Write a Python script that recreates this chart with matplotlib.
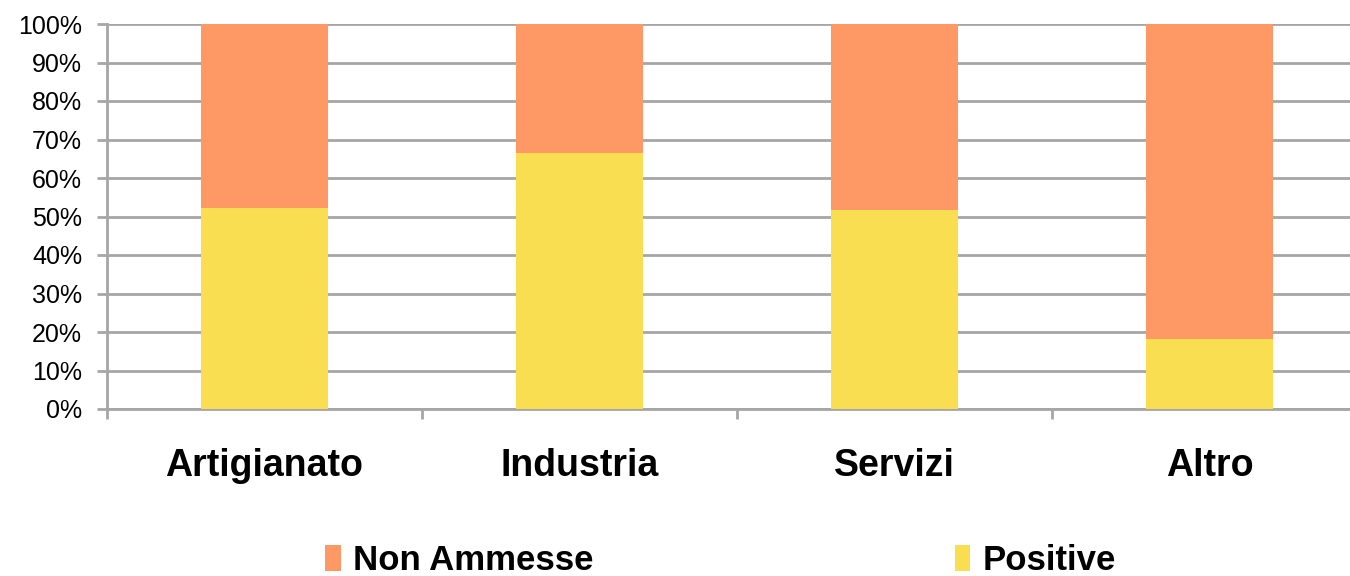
import matplotlib.pyplot as plt
import numpy as np

categories = ['Artigianato', 'Industria', 'Servizi', 'Altro']
positive = [52.1, 66.5, 51.7, 18.2]
non_ammesse = [100 - p for p in positive]
y_ticks = list(range(0, 101, 10))

yellow = '#F9DE52'
orange = '#FE9966'
grid = '#A6A6A6'

plt.rcParams['font.family'] = ['Liberation Sans', 'DejaVu Sans']

fig = plt.figure(figsize=(13.5, 5.76), dpi=100)
ax = fig.add_axes([107 / 1350, 167 / 576, 1260 / 1350, 385 / 576])

x = np.arange(len(categories))
ax.bar(x, positive, width=0.406, color=yellow, label='Positive', zorder=3)
ax.bar(x, non_ammesse, width=0.406, bottom=positive, color=orange,
       label='Non Ammesse', zorder=3)

ax.set_xlim(-0.5, len(categories) - 0.5)
ax.set_ylim(0, 100)
ax.set_yticks(y_ticks)
ax.set_yticklabels([f'{t}%' for t in y_ticks], fontsize=18)
ax.yaxis.grid(True, color=grid, linewidth=2, zorder=0)

# category boundaries get the ticks, centres get the labels
ax.set_xticks(np.arange(-0.5, len(categories), 1.0))
ax.set_xticklabels([])
ax.set_xticks(x, minor=True)
ax.set_xticklabels(categories, minor=True, fontsize=27, fontweight='bold')
ax.tick_params(axis='x', which='major', length=7, width=2, color=grid)
ax.tick_params(axis='x', which='minor', length=0, pad=28)
ax.tick_params(axis='y', length=7, width=2, color=grid, pad=11)

for s in ['top', 'right']:
    ax.spines[s].set_visible(False)
for s in ['left', 'bottom']:
    ax.spines[s].set_color(grid)
    ax.spines[s].set_linewidth(2)

handles, labels = ax.get_legend_handles_labels()
fig.legend(handles[::-1], labels[::-1], loc='lower left',
           bbox_to_anchor=(294 / 1350, -0.056), ncol=2, frameon=False,
           prop={'size': 25, 'weight': 'bold'}, handlelength=0.45,
           handleheight=0.75, handletextpad=0.35, columnspacing=10.4)

fig.savefig('out.png', dpi=100)
